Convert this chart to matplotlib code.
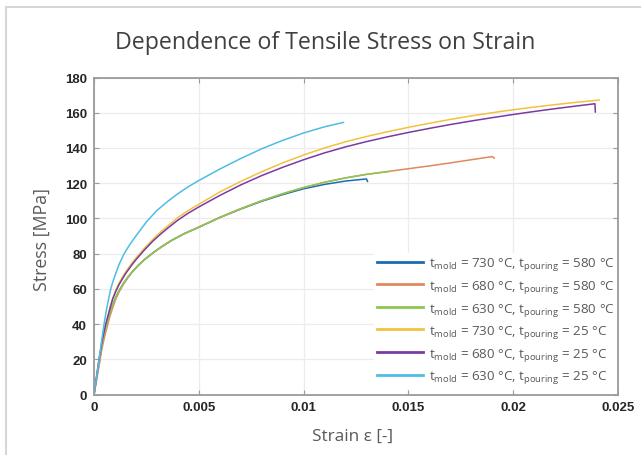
import matplotlib
matplotlib.use("Agg")
import matplotlib.pyplot as plt
from matplotlib.patches import Rectangle

# ---------------- data ----------------
labels = [
    r"$\mathregular{t_{mold}}$ = 730 °C, $\mathregular{t_{pouring}}$ = 580 °C",
    r"$\mathregular{t_{mold}}$ = 680 °C, $\mathregular{t_{pouring}}$ = 580 °C",
    r"$\mathregular{t_{mold}}$ = 630 °C, $\mathregular{t_{pouring}}$ = 580 °C",
    r"$\mathregular{t_{mold}}$ = 730 °C, $\mathregular{t_{pouring}}$ = 25 °C",
    r"$\mathregular{t_{mold}}$ = 680 °C, $\mathregular{t_{pouring}}$ = 25 °C",
    r"$\mathregular{t_{mold}}$ = 630 °C, $\mathregular{t_{pouring}}$ = 25 °C",
]
colors = ["#1a6db3", "#de8a5a", "#8cc653", "#f2c23e", "#7a3aa5", "#4dbde6"]

strain_730_580 = [0, 0.00012, 0.00024, 0.00035, 0.00045, 0.00055, 0.00064, 0.00075, 0.0009,
                  0.00105, 0.0012, 0.0014, 0.0016, 0.0018, 0.0021, 0.0024, 0.0028, 0.0032,
                  0.0037, 0.0043, 0.005, 0.006, 0.007, 0.008, 0.009, 0.010, 0.011, 0.012,
                  0.013, 0.01305]
stress_730_580 = [0, 9, 18, 26, 32, 37, 41, 46, 51, 55.5, 59, 63, 66.3, 69.3, 73.2, 76.5,
                  80.3, 83.7, 87.5, 91.3, 95, 100.5, 105.3, 109.7, 113.5, 116.8, 119.3,
                  121.2, 122.4, 121.0]

strain_680_580 = [0, 0.00012, 0.00024, 0.00035, 0.00045, 0.00055, 0.00064, 0.00075, 0.0009,
                  0.00105, 0.0012, 0.0014, 0.0016, 0.0018, 0.0021, 0.0024, 0.0028, 0.0032,
                  0.0037, 0.0043, 0.005, 0.006, 0.007, 0.008, 0.009, 0.010, 0.011, 0.012,
                  0.013, 0.014, 0.015, 0.016, 0.017, 0.018, 0.019, 0.0191]
stress_680_580 = [0, 8, 16, 24, 30, 35, 39, 44, 49.5, 54.5, 58.3, 62.5, 66, 69.2, 73.2, 76.5,
                  80.3, 83.7, 87.5, 91.3, 95, 100.5, 105.5, 110, 114, 117.5, 120.5, 123,
                  125, 126.6, 128.2, 129.8, 131.5, 133.3, 135.1, 134.2]

strain_630_580 = [0, 0.00012, 0.00024, 0.00035, 0.00045, 0.00055, 0.00064, 0.00075, 0.0009,
                  0.00105, 0.0012, 0.0014, 0.0016, 0.0018, 0.0021, 0.0024, 0.0028, 0.0032,
                  0.0037, 0.0043, 0.005, 0.006, 0.007, 0.008, 0.009, 0.010, 0.011, 0.012,
                  0.013, 0.01407]
stress_630_580 = [0, 9, 18, 26, 32, 37, 41, 46, 51, 55.5, 59, 63, 66.3, 69.3, 73.2, 76.5,
                  80.3, 83.7, 87.5, 91.3, 95, 100.5, 105.5, 110, 114, 117.5, 120.5, 123,
                  125, 126.6]

strain_730_25 = [0, 0.00012, 0.00024, 0.0004, 0.00056, 0.0007, 0.0008, 0.0009, 0.00104,
                 0.0012, 0.0015, 0.0018, 0.002, 0.0024, 0.0028, 0.0032, 0.0035, 0.004,
                 0.0045, 0.005, 0.006, 0.007, 0.008, 0.009, 0.010, 0.011, 0.012, 0.013,
                 0.014, 0.015, 0.016, 0.017, 0.018, 0.019, 0.020, 0.021, 0.022, 0.023,
                 0.0241]
stress_730_25 = [0, 10, 20, 31, 40, 46.5, 51, 55, 59.5, 63.5, 69.5, 74.5, 77.5, 83, 88,
                 92.5, 95.5, 100.5, 104.5, 108, 115, 121, 126.5, 131.5, 136, 140, 143.5,
                 146.5, 149.2, 151.7, 154, 156.2, 158.2, 160, 161.7, 163.2, 164.6, 165.9,
                 167.2]

strain_680_25 = [0, 0.00012, 0.00024, 0.0004, 0.00056, 0.0007, 0.0008, 0.0009, 0.00104,
                 0.0012, 0.0015, 0.0018, 0.002, 0.0024, 0.0028, 0.0032, 0.0035, 0.004,
                 0.0045, 0.005, 0.006, 0.007, 0.008, 0.009, 0.010, 0.011, 0.012, 0.013,
                 0.014, 0.015, 0.016, 0.017, 0.018, 0.019, 0.020, 0.021, 0.022, 0.023,
                 0.0239, 0.02392]
stress_680_25 = [0, 10, 20, 31, 40, 46, 50.5, 54.5, 58.5, 62.5, 68.5, 73.5, 76.5, 82, 87,
                 91.3, 94.3, 99, 103, 106.5, 113, 119, 124.3, 129, 133.3, 137.2, 140.6,
                 143.6, 146.3, 148.8, 151.1, 153.3, 155.3, 157.2, 159, 160.7, 162.3, 163.8,
                 165.1, 160.4]

strain_630_25 = [0, 0.0001, 0.00024, 0.00036, 0.00048, 0.0006, 0.0007, 0.0008, 0.0009,
                 0.001, 0.0012, 0.00144, 0.0017, 0.002, 0.0025, 0.003, 0.0035, 0.004,
                 0.0045, 0.005, 0.006, 0.007, 0.008, 0.009, 0.010, 0.011, 0.0119]
stress_630_25 = [0, 8, 20, 30, 40, 48.5, 54.5, 60, 64, 67.5, 74, 80, 85, 90, 98, 104.5,
                 109.5, 114, 118, 121.5, 128, 134, 139.5, 144.3, 148.5, 152, 154.5]

strains = [strain_730_580, strain_680_580, strain_630_580, strain_730_25, strain_680_25, strain_630_25]
stresses = [stress_730_580, stress_680_580, stress_630_580, stress_730_25, stress_680_25, stress_630_25]

xticks = [0, 0.005, 0.01, 0.015, 0.02, 0.025]
xticklabels = ["0", "0.005", "0.01", "0.015", "0.02", "0.025"]
yticks = [0, 20, 40, 60, 80, 100, 120, 140, 160, 180]

# ---------------- figure ----------------
plt.rcParams['font.family'] = ['Open Sans', 'DejaVu Sans']
plt.rcParams['mathtext.fontset'] = 'custom'
plt.rcParams['mathtext.rm'] = 'Open Sans'

W, H = 641, 456
fig = plt.figure(figsize=(W / 100, H / 100), dpi=100)
fig.patch.set_facecolor("white")

# outer light frame
fig.patches.append(Rectangle((6 / W, -0.2), 1.2, (H - 8) / H + 0.2,
                             transform=fig.transFigure, fill=False,
                             edgecolor="#d6d6d6", linewidth=1.5))

ax = fig.add_axes([94 / W, (H - 395.5) / H, (618 - 94) / W, (395.5 - 78.5) / H])

for i in range(6):
    ax.plot(strains[i], stresses[i], color=colors[i], linewidth=1.1,
            label=labels[i], zorder=3 + i * 0.1, solid_joinstyle="round")

ax.set_xlim(0, 0.025)
ax.set_ylim(0, 180)
ax.set_xticks(xticks)
ax.set_xticklabels(xticklabels)
ax.set_yticks(yticks)

ax.grid(True, color="#ececec", linewidth=0.9)
ax.set_axisbelow(True)

for sp in ax.spines.values():
    sp.set_color("#9a9a9a")
    sp.set_linewidth(1.3)
    sp.set_zorder(10)

ax.tick_params(direction="in", length=3.5, width=0.8, color="#9a9a9a",
               top=True, right=True, labelsize=9.5, labelcolor="#262626", pad=5)
for lab in ax.get_xticklabels() + ax.get_yticklabels():
    lab.set_family(["Liberation Sans", "DejaVu Sans"])
    lab.set_fontweight("bold")

fig.text(325 / W, 1 - 43 / H, "Dependence of Tensile Stress on Strain",
         ha="center", va="center", fontsize=16.7, color="#404040")
fig.text(42 / W, 1 - 240 / H, "Stress [MPa]", rotation=90, ha="center", va="center",
         fontsize=12.8, color="#595959")
fig.text(353 / W, 1 - 437 / H, "Strain ε [-]", ha="center", va="center",
         fontsize=12.3, color="#595959")

leg = ax.legend(loc="lower right", bbox_to_anchor=(1.0, 0.0205), fontsize=9.6,
                frameon=True, fancybox=False, framealpha=1.0, edgecolor="white",
                facecolor="white", handlelength=3.5, handletextpad=0.45,
                labelspacing=0.42, borderpad=0.2, borderaxespad=0.0)
for t in leg.get_texts():
    t.set_color("#595959")
for lh in leg.get_lines():
    lh.set_linewidth(2.0)

fig.savefig("out.png", dpi=100, facecolor="white")
